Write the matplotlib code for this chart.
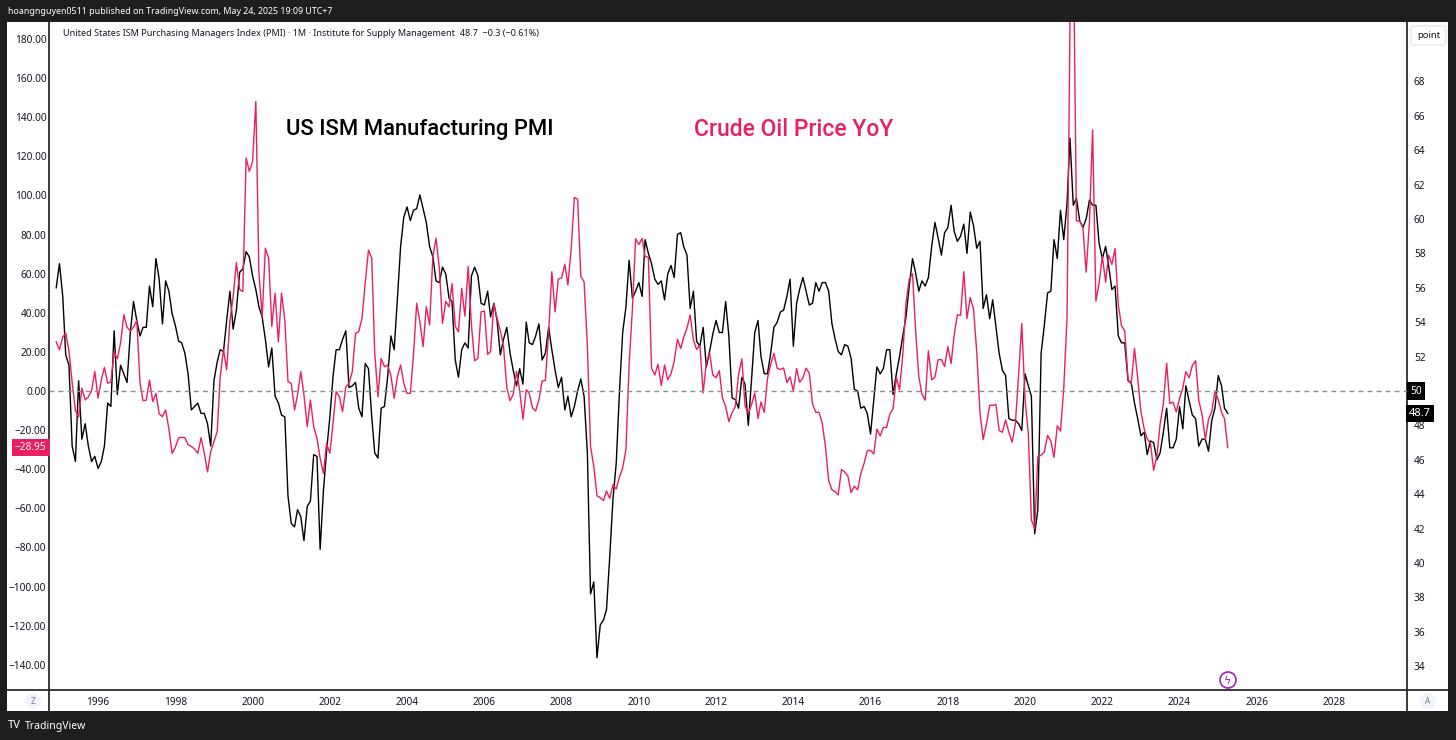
import matplotlib
matplotlib.use('Agg')
import matplotlib.pyplot as plt
import matplotlib.dates as mdates
import matplotlib.transforms as mtransforms
from matplotlib.patches import Rectangle, Circle, FancyBboxPatch
import pandas as pd

plt.rcParams['font.family'] = ['Noto Sans', 'DejaVu Sans']

# monthly values, Dec 1994 .. Apr 2025
start_month = '1994-12-01'

pmi = [
    56.0,                                                                    # 1994 Dec
    57.4, 55.5, 52.1, 51.5, 46.8, 45.9, 50.6, 47.2, 48.1, 46.8, 45.9, 46.2,  # 1995
    45.5, 45.9, 46.8, 49.3, 49.1, 53.5, 49.8, 51.5, 51.0, 50.5, 53.4, 55.2,  # 1996
    54.1, 53.2, 53.7, 53.7, 56.1, 54.9, 57.7, 56.5, 53.9, 56.4, 55.8, 54.5,  # 1997
    53.8, 52.9, 52.8, 52.2, 51.0, 48.9, 49.1, 49.3, 48.7, 48.7, 48.1, 46.8,  # 1998
    50.6, 51.7, 52.4, 52.3, 54.1, 55.8, 53.6, 54.7, 56.9, 57.1, 58.1, 57.8,  # 1999
    56.7, 55.9, 54.9, 54.3, 53.0, 51.4, 52.5, 49.7, 49.3, 48.6, 48.5, 43.9,  # 2000
    42.3, 42.1, 43.1, 42.7, 41.3, 43.3, 43.6, 46.3, 46.2, 40.8, 44.2, 46.5,  # 2001
    48.5, 50.9, 52.4, 52.4, 53.0, 53.5, 50.2, 50.3, 50.5, 49.0, 48.5, 51.6,  # 2002
    51.3, 48.5, 46.4, 46.1, 49.0, 49.1, 50.8, 53.2, 52.4, 55.3, 58.4, 60.1,  # 2003
    60.7, 59.9, 60.5, 60.6, 61.4, 60.6, 59.8, 58.4, 57.8, 56.4, 56.3, 57.2,  # 2004
    56.8, 55.4, 55.2, 51.8, 50.8, 52.4, 52.8, 52.5, 56.7, 57.2, 56.7, 55.1,  # 2005
    55.0, 55.8, 54.3, 55.1, 54.1, 52.1, 53.0, 53.7, 52.2, 51.2, 50.3, 51.3,  # 2006
    50.4, 54.0, 52.8, 52.7, 53.2, 53.9, 51.8, 52.2, 53.7, 52.4, 51.2, 50.2,  # 2007
    50.8, 48.9, 49.7, 48.5, 49.1, 50.0, 50.7, 49.7, 46.4, 38.2, 38.9, 34.5,  # 2008
    36.4, 36.7, 37.3, 40.4, 43.7, 45.8, 49.9, 53.4, 54.9, 57.6, 55.4, 55.8,  # 2009
    56.3, 55.5, 58.8, 58.0, 57.4, 56.5, 56.2, 56.4, 55.3, 56.8, 57.3, 56.6,  # 2010
    59.1, 59.2, 58.4, 57.9, 54.8, 55.8, 52.9, 52.6, 53.7, 51.4, 52.3, 53.3,  # 2011
    54.1, 53.4, 53.4, 55.2, 53.2, 49.6, 49.5, 49.0, 50.8, 50.4, 48.0, 50.6,  # 2012
    53.4, 54.1, 52.0, 51.0, 51.0, 52.2, 53.7, 54.0, 54.6, 54.7, 55.5, 56.5,  # 2013
    52.6, 55.1, 55.9, 56.6, 55.8, 55.0, 55.1, 56.3, 55.8, 56.3, 56.3, 55.8,  # 2014
    53.9, 53.0, 52.3, 52.1, 52.7, 52.6, 51.9, 50.1, 50.0, 49.0, 49.1, 48.7,  # 2015
    47.5, 49.5, 51.4, 51.0, 51.3, 52.4, 52.4, 49.8, 51.0, 52.0, 53.2, 54.3,  # 2016
    56.1, 57.7, 56.9, 55.8, 56.4, 56.1, 56.6, 58.4, 59.8, 58.9, 57.9, 59.2,  # 2017
    59.5, 60.8, 59.3, 58.7, 59.0, 59.7, 58.0, 60.4, 59.6, 58.3, 58.7, 54.8,  # 2018
    55.6, 54.2, 55.3, 53.7, 52.2, 51.2, 50.9, 48.4, 48.3, 48.3, 48.1, 47.7,  # 2019
    51.0, 50.3, 49.7, 41.7, 43.1, 52.2, 53.8, 55.7, 55.8, 58.8, 57.7, 60.5,  # 2020
    58.8, 60.9, 64.7, 60.8, 61.2, 59.9, 59.5, 60.0, 61.1, 60.8, 60.8, 58.6,  # 2021
    57.7, 58.4, 57.3, 55.9, 56.1, 53.2, 52.8, 52.8, 50.6, 50.5, 49.3, 48.4,  # 2022
    47.4, 47.6, 46.3, 47.1, 47.0, 46.0, 46.4, 47.6, 49.0, 46.7, 46.7, 47.2,  # 2023
    49.1, 47.8, 50.3, 49.4, 48.6, 48.4, 46.8, 47.2, 47.2, 46.5, 48.3, 49.0,  # 2024
    50.9, 50.3, 49.0, 48.7,                                                  # 2025
]

oil_yoy = [
    25.2,                                                                          # 1994 Dec
    21.0, 27.7, 29.6, 20.4, 4.5, -10.0, -13.3, 1.5, -4.6, -3.0, 0.2, 10.0,         # 1995
    -3.6, 5.7, 12.0, 4.0, 4.6, 20.0, 16.4, 24.6, 39.0, 32.6, 30.8, 32.6,           # 1996
    36.1, 3.9, -4.9, -4.7, 5.6, -5.4, -1.3, -11.7, -13.1, -9.7, -19.4, -31.9,      # 1997
    -28.7, -24.0, -23.6, -23.9, -27.4, -28.4, -29.6, -31.9, -23.9, -31.6, -41.4, -31.0,  # 1998
    -25.9, -20.6, 7.4, 21.2, 10.8, 36.0, 48.0, 65.7, 51.9, 50.8, 119.2, 112.4,     # 1999
    117.3, 148.0, 60.5, 38.0, 73.0, 68.0, 33.0, 50.0, 25.2, 50.0, 36.3, 4.8,       # 2000
    3.9, -9.7, -2.0, 9.9, -2.0, -18.2, -4.6, -18.2, -24.2, -34.4, -42.1, -26.8,    # 2001
    -31.9, -16.0, -0.3, -2.9, -10.6, 2.2, 3.9, 10.0, 29.5, 30.3, 37.2, 55.1,       # 2002
    72.1, 67.9, 20.0, -3.0, 16.7, 12.4, 13.3, 8.0, -3.7, 7.3, 13.3, 3.9,           # 2003
    -1.2, -1.2, 18.0, 44.9, 35.4, 22.7, 43.1, 33.8, 68.7, 78.1, 63.0, 34.6,       # 2004
    45.8, 43.1, 54.9, 33.0, 30.3, 52.5, 38.3, 63.7, 33.4, 15.5, 16.7, 40.5,       # 2005
    40.9, 18.7, 20.3, 44.6, 37.2, 30.8, 22.8, 1.9, -5.0, -1.7, 10.1, 0.0,         # 2006
    -14.4, 0.6, -1.1, -8.6, -10.2, -4.4, 5.1, 5.4, 29.8, 61.0, 40.5, 57.2,        # 2007
    57.8, 64.8, 54.2, 72.7, 99.0, 98.1, 58.6, 55.9, 23.2, -28.3, -38.6, -53.5,    # 2008
    -54.6, -56.0, -51.1, -54.9, -47.9, -50.1, -44.0, -39.4, -29.8, 13.6, 42.0, 77.9,  # 2009
    74.9, 78.0, 68.7, 68.5, 11.6, 8.2, 13.7, 2.8, 13.3, 5.8, 8.8, 15.1,           # 2010
    26.5, 21.7, 27.4, 32.2, 38.8, 26.2, 21.2, 23.5, -1.0, 14.4, 19.3, 8.2,        # 2011
    6.8, 10.4, -3.5, -8.0, -15.7, -11.0, -8.0, 8.6, 16.4, -7.5, -11.4, -7.1,      # 2012
    -1.0, -14.0, -5.6, -10.9, 6.3, 13.7, 19.3, 11.6, 11.0, 11.8, 4.3, 7.2,        # 2013
    0.0, 11.5, 4.5, 6.7, 11.7, 9.1, -6.5, -10.9, -10.9, -16.4, -28.7, -45.9,      # 2014
    -50.5, -51.5, -53.1, -40.2, -41.3, -43.6, -52.0, -48.7, -50.5, -42.2, -37.0, -30.5,  # 2015
    -30.3, -32.2, -19.5, -23.0, -18.6, -18.7, -11.7, -9.1, 7.0, 0.6, 18.7, 45.0,  # 2016
    57.1, 60.0, 32.0, 7.4, -1.6, -4.7, 20.6, 5.7, 7.1, 16.0, 16.1, 12.5,          # 2017
    22.6, 14.1, 28.3, 39.0, 38.7, 61.1, 37.1, 47.8, 41.8, 20.1, -11.3, -24.8,     # 2018
    -16.9, -7.2, -7.4, -6.8, -20.2, -21.1, -14.8, -21.1, -26.2, -17.0, 8.3, 34.5, # 2019
    -4.1, -21.8, -65.9, -70.5, -33.6, -32.8, -31.3, -22.7, -25.6, -33.9, -17.8, -20.5,  # 2020
    1.2, 37.4, 188.9, 237.5, 86.9, 87.1, 83.6, 60.8, 86.5, 133.5, 46.0, 55.0,     # 2021
    68.9, 55.6, 69.5, 64.7, 72.9, 43.9, 33.4, 30.7, 5.9, 3.5, 21.7, 6.7,          # 2022
    -10.5, -19.5, -24.5, -26.7, -40.6, -33.2, -17.1, -6.6, 14.2, -6.4, -5.7, -10.7,  # 2023
    -3.8, 1.6, 9.9, 6.7, 13.1, 15.4, -4.8, -12.1, -24.9, -14.5, -10.5, 0.1,       # 2024
    -4.4, -10.9, -14.1, -28.95,                                                   # 2025
]

left_ticks = [-140, -120, -100, -80, -60, -40, -20, 0, 20, 40, 60, 80, 100, 120, 140, 160, 180]
# 50 is shown by the marker box, 70 sits under the "point" button
right_ticks = [34, 36, 38, 40, 42, 44, 46, 48, 52, 54, 56, 58, 60, 62, 64, 66, 68]

pmi_last = 48.7
oil_last = -28.95

pink = '#e91e63'
txt = '#131722'
frame = '#1e1e1e'

W, H = 1456, 740
fig = plt.figure(figsize=(W / 100, H / 100), dpi=100)
fig.patch.set_facecolor(frame)

# background layer in pixel coordinates
bg = fig.add_axes([0, 0, 1, 1], zorder=0)
bg.set_xlim(0, W)
bg.set_ylim(H, 0)
bg.axis('off')
bg.add_patch(Rectangle((7, 22), 1441, 689, fc='white', ec='none'))
bg.plot([49, 49], [22, 711], color='#2a2a2a', lw=1.3)
bg.plot([1407, 1407], [22, 711], color='#2a2a2a', lw=1.3)
bg.plot([7, 1448], [690, 690], color='#2a2a2a', lw=1.3)

dates = pd.date_range(start_month, periods=len(pmi), freq='MS')

ax = fig.add_axes([49 / W, 50 / H, 1358 / W, 668 / H], zorder=2)
ax.patch.set_alpha(0)
ax2 = ax.twinx()
ax2.set_zorder(1)
ax2.patch.set_alpha(0)

ax2.plot(dates, pmi, color='black', lw=1.0)
ax.plot(dates, oil_yoy, color=pink, lw=1.0)
ax.axhline(0, color='#8a8d96', lw=1.0, ls=(0, (3.5, 3)))

ax.set_ylim(-152.9, 188.7)
ax2.set_ylim(32.62, 71.45)
ax.set_xlim(pd.Timestamp('1994-09-24'), pd.Timestamp('2029-11-21'))

ax.set_yticks(left_ticks)
ax.set_yticklabels(['{:.2f}'.format(v).replace('-', '\u2212') for v in left_ticks])
ax2.set_yticks(right_ticks)
ax2.set_yticklabels([str(v) for v in right_ticks])
ax.xaxis.set_major_locator(mdates.YearLocator(2))
ax.xaxis.set_major_formatter(mdates.DateFormatter('%Y'))

ax.tick_params(axis='y', length=0, pad=2, labelsize=7.3, labelcolor=txt)
ax2.tick_params(axis='y', length=0, pad=5, labelsize=7.3, labelcolor=txt)
ax.tick_params(axis='x', length=0, pad=5, labelsize=7.3, labelcolor=txt)
for a in (ax, ax2):
    for s in a.spines.values():
        s.set_visible(False)

# last value labels on the price scales
tr_r = mtransforms.blended_transform_factory(ax2.transAxes, ax2.transData)
ax2.text(1.0025, 50, '50', transform=tr_r, ha='left', va='center', fontsize=7.3,
         fontweight='bold', color='white', clip_on=False, zorder=10,
         bbox=dict(boxstyle='square,pad=0.3', fc='black', ec='none'))
ax2.text(1.0015, pmi_last, '{:.1f}'.format(pmi_last), transform=tr_r, ha='left', va='center',
         fontsize=8, fontweight='bold', color='white', clip_on=False, zorder=10,
         bbox=dict(boxstyle='square,pad=0.3', fc='black', ec='none'))
tr_l = mtransforms.blended_transform_factory(ax.transAxes, ax.transData)
ax.text(-0.0018, oil_last, '{:.2f}'.format(oil_last).replace('-', '\u2212'), transform=tr_l,
        ha='right', va='center', fontsize=7.3, color='white', clip_on=False, zorder=10,
        bbox=dict(boxstyle='square,pad=0.3', fc=pink, ec='none'))

# overlay texts and small widgets
top = fig.add_axes([0, 0, 1, 1], zorder=5)
top.set_xlim(0, W)
top.set_ylim(H, 0)
top.axis('off')

top.text(8, 11, 'hoangnguyen0511 published on TradingView.com, May 24, 2025 19:09 UTC+7',
         color='white', fontsize=6.4, fontweight='bold', va='center', ha='left')
top.text(63, 33, 'United States ISM Purchasing Managers Index (PMI) \u00b7 1M \u00b7 Institute for Supply Management  48.7  \u22120.3 (\u22120.61%)',
         color=txt, fontsize=6.5, va='center', ha='left')
top.text(286, 130, 'US ISM Manufacturing PMI', color='black', fontsize=15.8,
         family='Roboto', fontweight='medium', va='center', ha='left')
top.text(694, 130, 'Crude Oil Price YoY', color=pink, fontsize=16.5,
         family='Roboto', fontweight='medium', va='center', ha='left')

top.add_patch(FancyBboxPatch((1411, 26), 35, 19, boxstyle='round,pad=0,rounding_size=3',
                             fc='white', ec='#e0e3eb', lw=0.8))
top.text(1428.5, 35.5, 'point', color=txt, fontsize=6.8, va='center', ha='center')

top.add_patch(Circle((33, 701), 8, fc='#f0f3fa', ec='none'))
top.text(33, 701, 'Z', color='#787b86', fontsize=6, va='center', ha='center')
top.add_patch(Circle((1428, 701), 8, fc='#f0f3fa', ec='none'))
top.text(1428, 701, 'A', color='#787b86', fontsize=6, va='center', ha='center')

top.add_patch(Circle((1228, 680), 8, fc='white', ec='#9c27b0', lw=1.2))
top.text(1228, 680.5, '\u03df', color='#9c27b0', fontsize=8, va='center', ha='center',
         family='DejaVu Sans')

top.text(8, 726, 'TV', color='white', fontsize=8, fontweight='bold', va='center', ha='left')
top.text(25, 726, 'TradingView', color='white', fontsize=7.5, va='center', ha='left')

fig.savefig('out.png', dpi=100, facecolor=frame)
